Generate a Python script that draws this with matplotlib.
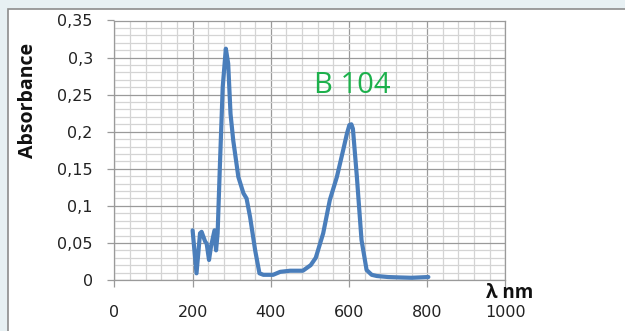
import matplotlib
matplotlib.use("Agg")
import matplotlib.pyplot as plt
from matplotlib.patches import Rectangle
from matplotlib.ticker import MultipleLocator, FuncFormatter

wavelength = [200, 210, 219, 223, 232, 236, 242, 247, 256, 260, 264, 270, 277, 285,
              291, 297, 304, 317, 330, 338, 347, 360, 371, 381, 406, 424, 449, 482,
              502, 515, 534, 551, 569, 585, 595, 601, 606, 610, 620, 632, 645, 658,
              671, 700, 727, 760, 803]
absorbance = [0.067, 0.009, 0.063, 0.065, 0.052, 0.049, 0.027, 0.045, 0.067, 0.040,
              0.063, 0.157, 0.260, 0.312, 0.292, 0.224, 0.188, 0.139, 0.117, 0.110,
              0.085, 0.040, 0.009, 0.007, 0.007, 0.011, 0.0125, 0.0125, 0.020, 0.030,
              0.063, 0.108, 0.139, 0.175, 0.198, 0.209, 0.210, 0.204, 0.140, 0.054,
              0.0135, 0.007, 0.0054, 0.004, 0.0035, 0.003, 0.004]
series_name = "B 104"
x_label = "λ nm"
y_label = "Absorbance"

W, H = 625, 331
fig = plt.figure(figsize=(W / 100, H / 100), dpi=100)
fig.patch.set_facecolor("#e7f0f3")
panel = Rectangle((8 / W, -0.05), 1.0, 1 - 9 / H + 0.05, transform=fig.transFigure,
                  facecolor="white", edgecolor="#8c8c8c", linewidth=1.2, zorder=-5)
fig.add_artist(panel)

font = ["Open Sans", "DejaVu Sans"]
tick_font = ["DejaVu Sans"]

ax = fig.add_axes([114.4 / W, 1 - 280 / H, (505.4 - 114.4) / W, (280 - 20.5) / H])
ax.set_zorder(2)
ax.set_facecolor("white")
ax.set_xlim(0, 1000)
ax.set_ylim(0, 0.35)
ax.xaxis.set_major_locator(MultipleLocator(200))
ax.xaxis.set_minor_locator(MultipleLocator(40))
ax.yaxis.set_major_locator(MultipleLocator(0.05))
ax.yaxis.set_minor_locator(MultipleLocator(0.01))
ax.grid(which="minor", color="#d4d4d4", linewidth=0.9)
ax.grid(which="major", color="#9a9a9a", linewidth=0.9)
ax.set_axisbelow(True)
for s in ax.spines.values():
    s.set_color("#9a9a9a")
    s.set_linewidth(0.9)

def yfmt(v, pos):
    s = f"{v:.2f}".rstrip("0").rstrip(".")
    return s.replace(".", ",")

ax.yaxis.set_major_formatter(FuncFormatter(yfmt))
ax.xaxis.set_major_formatter(FuncFormatter(lambda v, p: f"{v:.0f}"))
ax.tick_params(which="minor", length=0)
ax.tick_params(axis="y", which="major", length=5, width=0.9, color="#9a9a9a",
               direction="out", pad=10.5, labelsize=11.5, labelcolor="#222222")
ax.tick_params(axis="x", which="major", length=5, width=0.9, color="#9a9a9a",
               direction="out", pad=13, labelsize=11.5, labelcolor="#222222")
for lab in ax.get_xticklabels() + ax.get_yticklabels():
    lab.set_family(tick_font)

ax.plot(wavelength, absorbance, color="#4a7ebb", linewidth=3.0, solid_joinstyle="round",
        solid_capstyle="round", zorder=3)

ax.text(608, 0.2625, series_name, color="#1db04c", fontsize=21, family=font,
        ha="center", va="center")

fig.text(28 / W, 1 - 100 / H, y_label, rotation=90, fontsize=14, fontweight="bold",
         family=font, ha="center", va="center", color="#111111")
fig.text(510 / W, 1 - 293 / H, x_label, fontsize=13.5, fontweight="bold",
         family=font, ha="center", va="center", color="#111111")

fig.savefig("out.png", dpi=100, facecolor=fig.get_facecolor())
